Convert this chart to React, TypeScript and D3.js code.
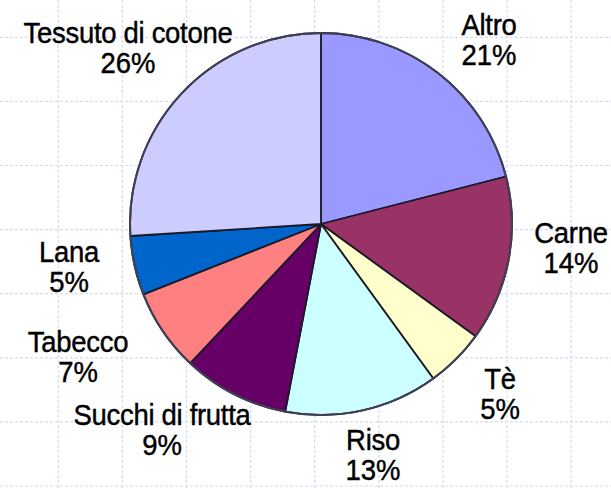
import React from 'react';
import * as d3 from 'd3';

// Quote per categoria (%), in senso orario partendo dalle ore 12
const categories = ['Altro', 'Carne', 'Tè', 'Riso', 'Succhi di frutta', 'Tabecco', 'Lana', 'Tessuto di cotone'];
const shares = [21, 14, 5, 13, 9, 7, 5, 26];
const sliceColors = ['#9999FF', '#993366', '#FFFFCC', '#CCFFFF', '#660066', '#FF8080', '#0066CC', '#CCCCFF'];
// posizione delle etichette come [x, y] dei centri (baseline prima riga)
const labelPos: [number, number][] = [
    [489, 35], [571, 243], [500, 389], [373, 450],
    [162, 425], [78, 352], [69, 262], [128, 43],
];

const W = 611;
const H = 488;

export default function App() {
    const cx = 321;
    const cy = 224;
    const r = 191;

    const data = categories.map((c, i) => ({ name: c, value: shares[i], color: sliceColors[i] }));
    const pie = d3.pie<typeof data[0]>().value(d => d.value).sort(null);
    const arcs = pie(data);
    const arc = d3.arc<d3.PieArcDatum<typeof data[0]>>().innerRadius(0).outerRadius(r);

    // griglia tratteggiata di sfondo
    const step = 64.1;
    const xs = d3.range(58.3, W, step);
    const ys = d3.range(37.3, H, step);

    return (
        <svg width={W} height={H} style={{ position: 'absolute', left: 0, top: 0, background: '#fff' }}>
            <g stroke="#D2DCF4" strokeWidth={1.2} strokeDasharray="3,2">
                {xs.map((x, i) => <line key={'v' + i} x1={x} x2={x} y1={0} y2={H} />)}
                {ys.map((y, i) => <line key={'h' + i} x1={0} x2={W} y1={y} y2={y} />)}
            </g>
            <g transform={`translate(${cx},${cy})`}>
                {arcs.map((a, i) => (
                    <path key={i} d={arc(a) || ''} fill={a.data.color}
                        stroke="#1a1a2a" strokeWidth={1.8} strokeLinejoin="round" />
                ))}
                <circle r={r} fill="none" stroke="#404055" strokeWidth={2} />
            </g>
            <g fontFamily="'Liberation Sans', Arial, sans-serif" fontSize={27.5} fill="#000"
                stroke="#000" strokeWidth={0.4} textAnchor="middle">
                {data.map((d, i) => (
                    <g key={i} transform={`translate(${labelPos[i][0]},${labelPos[i][1]}) scale(1,1.1)`}>
                        <text x={0} y={0} letterSpacing={-0.3}>{d.name}</text>
                        <text x={0} y={27.5}>{d.value}%</text>
                    </g>
                ))}
            </g>
        </svg>
    );
}
